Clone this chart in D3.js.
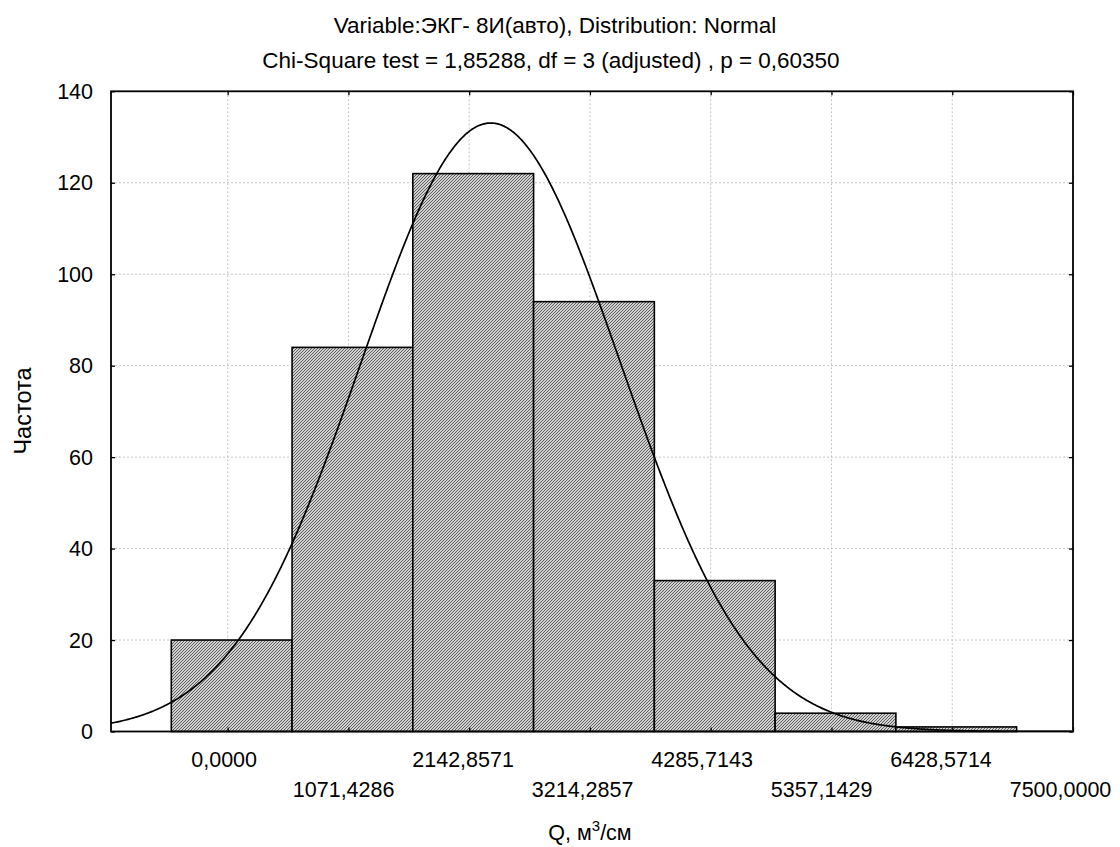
<!DOCTYPE html>
<html>
<head>
<meta charset="utf-8">
<script src="https://cdn.jsdelivr.net/npm/d3@7"></script>
<style>
  html, body { margin: 0; padding: 0; background: #fff; }
  svg { display: block; }
  text { font-family: "Liberation Sans", Arial, sans-serif; fill: #000; }
</style>
</head>
<body>
<svg id="chart" width="1120" height="847"></svg>
<script>
// ---- data ----
const titleLines = ["Variable:ЭКГ- 8И(авто), Distribution: Normal",
                    "Chi-Square test = 1,85288, df = 3 (adjusted) , p = 0,60350"];
const binEdges = [-500, 571.4286, 1642.8571, 2714.2857, 3785.7143, 4857.1429, 5928.5714, 7000];
const counts = [20, 84, 122, 94, 33, 4, 1];
const xTicks = [0, 1071.4286, 2142.8571, 3214.2857, 4285.7143, 5357.1429, 6428.5714, 7500];
const xTickLabels = ["0,0000", "1071,4286", "2142,8571", "3214,2857", "4285,7143", "5357,1429", "6428,5714", "7500,0000"];
const yTicks = [0, 20, 40, 60, 80, 100, 120, 140];
const fitMean = 2334;   // fitted normal distribution
const fitSD = 1150;
const xLabel = "Q, м";
const xLabelSup = "3";
const xLabelTail = "/см";
const yLabel = "Частота";

// ---- layout ----
const svg = d3.select("#chart");
const L = 111, R = 1073, T = 91.3, B = 731.5;
const x = d3.scaleLinear().domain([-1035, 7500]).range([L, R]);
const y = d3.scaleLinear().domain([0, 140]).range([B, T]);

const defs = svg.append("defs");
const pat = defs.append("pattern").attr("id", "hatch")
  .attr("patternUnits", "userSpaceOnUse").attr("width", 3).attr("height", 3);
pat.append("rect").attr("width", 3).attr("height", 3).attr("fill", "#fff");
pat.append("path").attr("d", "M-1,1 L1,-1 M0,3 L3,0 M2,4 L4,2")
  .attr("stroke", "#555").attr("stroke-width", 1.05);
defs.append("clipPath").attr("id", "clip").append("rect")
  .attr("x", L).attr("y", T).attr("width", R - L).attr("height", B - T);

// gridlines
const grid = svg.append("g").attr("stroke", "#c4c4c4").attr("stroke-width", 1)
  .attr("stroke-dasharray", "2,2");
grid.selectAll("line.v").data(xTicks).enter().append("line")
  .attr("x1", d => x(d)).attr("x2", d => x(d)).attr("y1", T).attr("y2", B);
grid.selectAll("line.h").data(yTicks.filter(d => d > 0 && d < 140)).enter().append("line")
  .attr("y1", d => y(d)).attr("y2", d => y(d)).attr("x1", L).attr("x2", R);

// bars
svg.append("g").selectAll("rect").data(counts).enter().append("rect")
  .attr("x", (d, i) => x(binEdges[i]))
  .attr("width", (d, i) => x(binEdges[i + 1]) - x(binEdges[i]))
  .attr("y", d => y(d))
  .attr("height", d => B - y(d))
  .attr("fill", "url(#hatch)")
  .attr("stroke", "#000").attr("stroke-width", 1.6);

// fitted normal curve
const total = d3.sum(counts);
const bw = binEdges[1] - binEdges[0];
const dens = v => total * bw / (fitSD * Math.sqrt(2 * Math.PI)) * Math.exp(-0.5 * Math.pow((v - fitMean) / fitSD, 2));
const xs = d3.range(x.domain()[0], x.domain()[1] + 1, 10);
svg.append("path").datum(xs)
  .attr("clip-path", "url(#clip)")
  .attr("d", d3.line().x(d => x(d)).y(d => y(dens(d))))
  .attr("fill", "none").attr("stroke", "#000").attr("stroke-width", 1.7);

// axes with inward ticks
const fs = 21.5;
const axB = svg.append("g").attr("transform", `translate(0,${B})`)
  .call(d3.axisBottom(x).tickValues(xTicks).tickSize(-4).tickFormat(""));
const axT = svg.append("g").attr("transform", `translate(0,${T})`)
  .call(d3.axisTop(x).tickValues(xTicks).tickSize(-4).tickFormat(""));
const axL = svg.append("g").attr("transform", `translate(${L},0)`)
  .call(d3.axisLeft(y).tickValues(yTicks).tickSize(-4).tickFormat(""));
const axR = svg.append("g").attr("transform", `translate(${R},0)`)
  .call(d3.axisRight(y).tickValues(yTicks).tickSize(-4).tickFormat(""));
[axB, axT, axL, axR].forEach(g => {
  g.select(".domain").remove();
  g.selectAll(".tick line").attr("stroke", "#000").attr("stroke-width", 1.3);
});

// frame
svg.append("rect").attr("x", L).attr("y", T).attr("width", R - L).attr("height", B - T)
  .attr("fill", "none").attr("stroke", "#000").attr("stroke-width", 1.8);

// y tick labels
svg.append("g").selectAll("text").data(yTicks).enter().append("text")
  .attr("x", 93).attr("y", d => y(d) + 7.6)
  .attr("text-anchor", "end").attr("font-size", fs)
  .text(d => d);

// x tick labels (staggered)
svg.append("g").selectAll("text").data(xTicks).enter().append("text")
  .attr("x", d => x(d) - 3.5 - d * 0.0012)
  .attr("y", (d, i) => i % 2 === 0 ? 767 : 797)
  .attr("text-anchor", "middle").attr("font-size", fs)
  .text((d, i) => xTickLabels[i]);

// titles
svg.append("text").attr("x", 555).attr("y", 33).attr("text-anchor", "middle")
  .attr("font-size", 22.5).text(titleLines[0]);
svg.append("text").attr("x", 551).attr("y", 68).attr("text-anchor", "middle")
  .attr("font-size", 22.5).text(titleLines[1]);

// axis titles
const xt = svg.append("text").attr("x", 590).attr("y", 840).attr("text-anchor", "middle")
  .attr("font-size", fs);
xt.append("tspan").text(xLabel);
xt.append("tspan").attr("dy", -9).attr("font-size", 15).text(xLabelSup);
xt.append("tspan").attr("dy", 9).text(xLabelTail);

svg.append("text").attr("transform", "translate(31,411) rotate(-90)")
  .attr("text-anchor", "middle").attr("font-size", 23.5).text(yLabel);
</script>
</body>
</html>
